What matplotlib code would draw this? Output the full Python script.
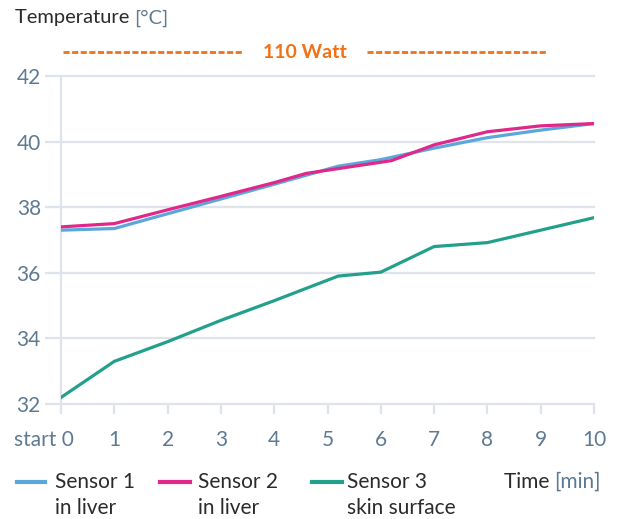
import matplotlib
matplotlib.use("Agg")
import matplotlib.pyplot as plt
from matplotlib.lines import Line2D

plt.rcParams['font.family'] = ['Lato', 'DejaVu Sans']

# data
t1 = [0, 1, 2, 3, 4, 5.2, 6, 7, 8, 9, 10]
sensor1 = [37.3, 37.35, 37.8, 38.25, 38.7, 39.25, 39.45, 39.8, 40.12, 40.35, 40.55]
t2 = [0, 1, 2, 3, 4, 4.6, 6.2, 7, 8, 9, 10]
sensor2 = [37.4, 37.5, 37.92, 38.33, 38.75, 39.03, 39.42, 39.9, 40.3, 40.48, 40.55]
t3 = [0, 1, 2, 3, 4, 5.2, 6, 7, 8, 9, 10]
sensor3 = [32.2, 33.3, 33.9, 34.55, 35.15, 35.9, 36.02, 36.8, 36.92, 37.3, 37.68]
xticks = list(range(0, 11))
xticklabels = [""] + [str(v) for v in xticks[1:]]
yticks = [32, 34, 36, 38, 40, 42]
labels_line1 = ["Sensor 1", "Sensor 2", "Sensor 3"]
labels_line2 = ["in liver", "in liver", "skin surface"]
colors = ["#5ba7da", "#e0288b", "#22a08b"]

W, H = 617, 519
fig = plt.figure(figsize=(W/100, H/100), dpi=100)
ax = fig.add_axes([61/W, 1-404/H, (594-61)/W, (404-76)/H])

grid = "#dfe3eb"
tickc = "#5e7a93"
dark = "#2b2b2b"
ax.set_xlim(0, 10)
ax.set_ylim(32, 42)
for y in yticks:
    ax.axhline(y, color=grid, lw=1.6, zorder=1, clip_on=False)
for s in ["top", "right", "bottom"]:
    ax.spines[s].set_visible(False)
ax.spines["left"].set_color(grid)
ax.spines["left"].set_linewidth(1.6)
ax.spines["left"].set_bounds(32, 42)

ax.set_xticks(xticks)
ax.set_xticklabels(xticklabels)
ax.set_yticks(yticks)
ax.tick_params(axis="x", length=7, width=1.6, color=grid, labelcolor=tickc,
               labelsize=15, pad=12)
ax.tick_params(axis="y", length=11.5, width=1.6, color=grid, labelcolor=tickc,
               labelsize=15, pad=3)

ax.plot(t1, sensor1, color=colors[0], lw=2.3, zorder=3, solid_joinstyle="round")
ax.plot(t3, sensor3, color=colors[2], lw=2.3, zorder=3, solid_joinstyle="round")
ax.plot(t2, sensor2, color=colors[1], lw=2.3, zorder=4, solid_joinstyle="round")

# "start 0" label
fig.text(74/W, 1-440/H, "start 0", color=tickc, fontsize=15, ha="right", va="center")

# power annotation
orange = "#f07116"
ax.plot([0.04, 3.41], [42.73, 42.73], color=orange, lw=2, ls=(0, (2.2, 0.9)), clip_on=False)
ax.plot([5.74, 9.1], [42.73, 42.73], color=orange, lw=2, ls=(0, (2.2, 0.9)), clip_on=False)
ax.text(4.58, 42.73, "110 Watt", color=orange, fontsize=14, fontweight="bold",
        ha="center", va="center", clip_on=False)

# y title
fig.canvas.draw()
r = fig.canvas.get_renderer()
t = fig.text(15/W, 1-18/H, "Temperature ", color=dark, fontsize=14.5, va="center")
bb = t.get_window_extent(r)
fig.text(bb.x1/W, 1-18/H, "[°C]", color=tickc, fontsize=14.5, va="center")

# legend
ly = 482
ly2 = 508
xs = [(17, 45, 55), (160, 190, 198), (312, 342, 347)]
for (a, b, c), l1, l2, col in zip(xs, labels_line1, labels_line2, colors):
    fig.add_artist(Line2D([a/W, b/W], [1-ly/H, 1-ly/H], color=col, lw=3))
    fig.text(c/W, 1-ly/H, l1, color=dark, fontsize=15, va="center")
    fig.text(c/W, 1-ly2/H, l2, color=dark, fontsize=15, va="center")

t2o = fig.text(601/W, 1-ly/H, "[min]", color=tickc, fontsize=15, va="center", ha="right")
bb2 = t2o.get_window_extent(r)
fig.text(bb2.x0/W, 1-ly/H, "Time ", color=dark, fontsize=15, va="center", ha="right")

fig.savefig("out.png", dpi=100)
